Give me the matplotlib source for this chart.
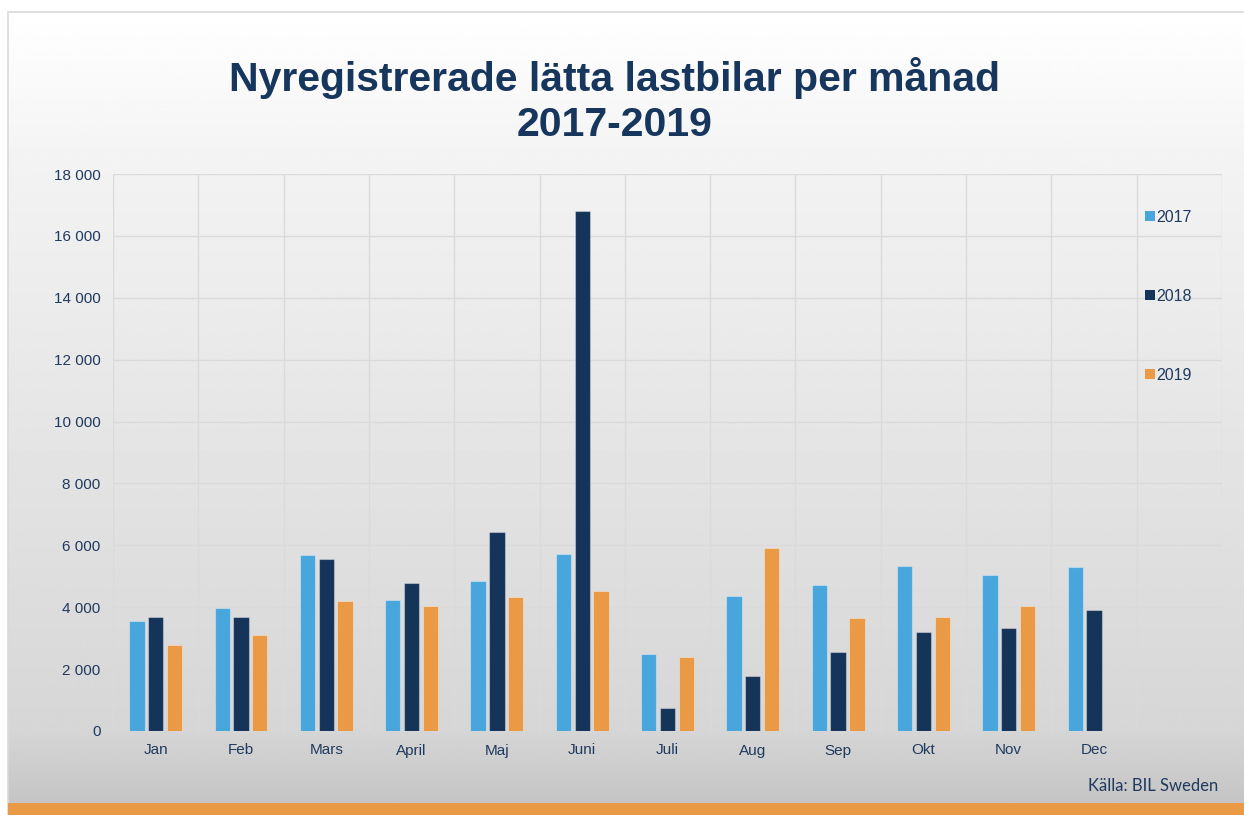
import matplotlib
matplotlib.use('Agg')
import matplotlib.pyplot as plt
import numpy as np
from matplotlib.patches import Patch, Rectangle
from matplotlib.ticker import FuncFormatter

plt.rcParams['font.family'] = ['Liberation Sans', 'DejaVu Sans']

# ── Data ──────────────────────────────────────────────────────────────────
manader = ['Jan', 'Feb', 'Mars', 'April', 'Maj', 'Juni',
           'Juli', 'Aug', 'Sep', 'Okt', 'Nov', 'Dec', '']
v2017 = [3555, 3966, 5678, 4224, 4848, 5710, 2489, 4354, 4709, 5343, 5042, 5290]
v2018 = [3685, 3685, 5549, 4783, 6442, 16807, 743, 1768, 2563, 3190, 3318, 3922]
v2019 = [2770, 3093, 4192, 4050, 4321, 4515, 2392, 5905, 3652, 3685, 4050]

ar = ['2017', '2018', '2019']
farger = ['#48A6DC', '#15345A', '#EA9944']
NAVY = '#1F3A5F'

W, H = 1244, 815
fig = plt.figure(figsize=(W / 100, H / 100), dpi=100)
fig.patch.set_facecolor('white')

# bakgrund med gradient
bg = fig.add_axes([8 / W, 0, 1 - 8 / W, 1 - 12 / H], zorder=-10)
ys = np.linspace(12, 815, 400)
gra = np.interp(ys, [12, 174, 731, 800], [255, 242, 214, 197]) / 255
img = np.repeat(gra[:, None], 2, axis=1)
bg.imshow(img, cmap='gray', vmin=0, vmax=1, aspect='auto',
          extent=[0, 1, 0, 1], interpolation='bilinear')
bg.set_xlim(0, 1)
bg.set_ylim(0, 1)
bg.axis('off')
fig.patches.append(Rectangle((8 / W, 0), 1, 1 - 12 / H, transform=fig.transFigure,
                             fill=False, edgecolor='#D9D9D9', linewidth=1.2))
# orange list längst ned
fig.patches.append(Rectangle((8 / W, 0), 1, 12 / H, transform=fig.transFigure,
                             facecolor='#EA9944', edgecolor='none', zorder=5))

ax = fig.add_axes([113 / W, 1 - 731 / H, (1222 - 113) / W, (731 - 174) / H])
ax.set_facecolor('none')

x = np.arange(len(manader))
bw = 0.18
step = 0.22
for i, (vals, col, lab) in enumerate(zip([v2017, v2018, v2019], farger, ar)):
    xs = x[:len(vals)] + (i - 1) * step
    ax.bar(xs, vals, width=bw, color=col, edgecolor=(1, 1, 1, 0.35),
           linewidth=0.8, zorder=3, label=lab)

ax.set_xlim(-0.5, len(manader) - 0.5)
ax.set_ylim(0, 18000)
ax.set_yticks(np.arange(0, 18001, 2000))
ax.yaxis.set_major_formatter(FuncFormatter(lambda v, p: f'{int(v):,}'.replace(',', ' ')))
ax.set_xticks(x)
ax.set_xticklabels(manader)
ax.set_xticks(np.arange(-0.5, len(manader)), minor=True)

ax.grid(axis='y', which='major', color='#DADADA', linewidth=1, zorder=0)
ax.grid(axis='x', which='minor', color='#DADADA', linewidth=1, zorder=0)
ax.grid(axis='x', which='major', visible=False)
for s in ax.spines.values():
    s.set_visible(False)
ax.tick_params(axis='both', which='both', length=0, colors=NAVY, labelsize=11)
ax.tick_params(axis='x', pad=9)
ax.tick_params(axis='y', pad=9)

handles = [Patch(facecolor=c, edgecolor='none') for c in farger]
leg = ax.legend(handles, ar, loc='upper left', bbox_to_anchor=(1018 / 1109, 0.962),
                frameon=False, fontsize=11.5, handlelength=0.6, handleheight=0.6,
                handletextpad=0.1, labelspacing=4.02, labelcolor=NAVY)

fig.text(0.494, 1 - 78 / H, 'Nyregistrerade lätta lastbilar per månad',
         ha='center', va='center', fontsize=29.5, fontweight='bold',
         color='#17365D')
fig.text(0.494, 1 - 125 / H, '2017-2019',
         ha='center', va='center', fontsize=29.5, fontweight='bold',
         color='#17365D')
fig.text(1218 / W, 1 - 786 / H, 'Källa: BIL Sweden', ha='right', va='center',
         fontsize=12, color=NAVY, family='Lato')

plt.savefig('out.png', dpi=100)
plt.close()
